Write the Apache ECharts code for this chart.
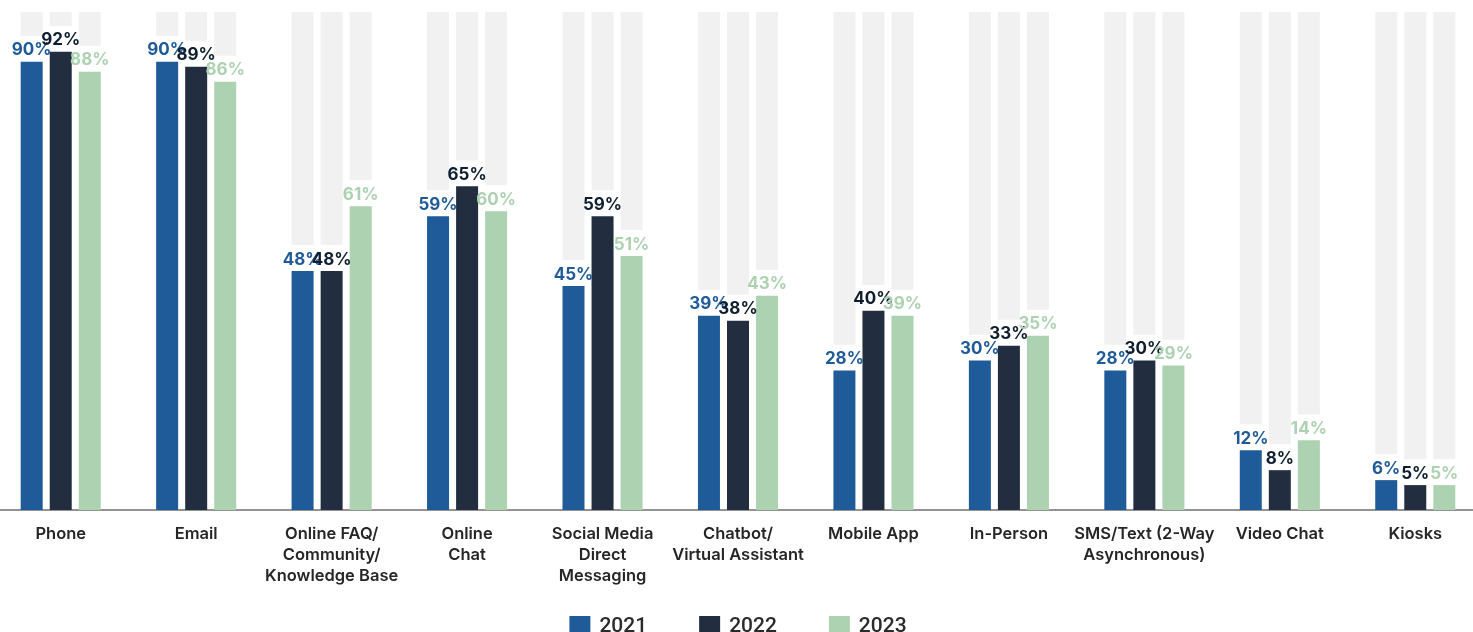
<!DOCTYPE html>
<html>
<head>
<meta charset="utf-8">
<script src="https://cdn.jsdelivr.net/npm/echarts@6/dist/echarts.min.js"></script>
<style>
  html, body { margin: 0; padding: 0; background: #ffffff; overflow: hidden; }
  #chart { width: 1490px; height: 632px; margin-left: -7px; }
</style>
</head>
<body>
<div id="chart"></div>
<script>
// Support channels in use, share of respondents by year
const categories = [
  'Phone', 'Email', 'Online FAQ/\nCommunity/\nKnowledge Base', 'Online\nChat',
  'Social Media\nDirect\nMessaging', 'Chatbot/\nVirtual Assistant', 'Mobile App',
  'In-Person', 'SMS/Text (2-Way\nAsynchronous)', 'Video Chat', 'Kiosks'
];
const years = ['2021', '2022', '2023'];
const values2021 = [90, 90, 48, 59, 45, 39, 28, 30, 28, 12, 6];
const values2022 = [92, 89, 48, 65, 59, 38, 40, 33, 30, 8, 5];
const values2023 = [88, 86, 61, 60, 51, 43, 39, 35, 29, 14, 5];

const colors = ['#1f5b98', '#222e3f', '#add2b1'];
const labelColors = ['#1f5b98', '#0f1f30', '#add2b1'];
const trackColor = '#f1f1f1';
const LABEL_GAP = 5.2;   // white space (in % units) kept clear above each bar for its label
const FONT = 'Inter, Lato, "Noto Sans", sans-serif';

const seriesValues = [values2021, values2022, values2023];
const BAR_W = 22;

const series = [];
seriesValues.forEach((vals, k) => {
  const stack = 'year' + k;
  series.push({
    name: years[k],
    type: 'bar',
    stack: stack,
    barWidth: BAR_W,
    barGap: '32%',
    data: vals,
    itemStyle: { color: colors[k] },
    label: {
      show: true,
      position: 'top',
      distance: 3,
      formatter: '{c}%',
      color: labelColors[k],
      fontFamily: FONT,
      fontWeight: 700,
      fontSize: 17
    },
    emphasis: { disabled: true }
  });
  series.push({
    name: 'gap' + k,
    type: 'bar',
    stack: stack,
    barWidth: BAR_W,
    barGap: '32%',
    silent: true,
    data: vals.map(() => LABEL_GAP),
    itemStyle: { color: 'rgba(0,0,0,0)' },
    emphasis: { disabled: true }
  });
  series.push({
    name: 'track' + k,
    type: 'bar',
    stack: stack,
    barWidth: BAR_W,
    barGap: '32%',
    silent: true,
    data: vals.map(v => Math.max(0, 100 - v - LABEL_GAP)),
    itemStyle: { color: trackColor },
    emphasis: { disabled: true }
  });
});

const chart = echarts.init(document.getElementById('chart'), null, { renderer: 'canvas' });
chart.setOption({
  animation: false,
  backgroundColor: '#ffffff',
  grid: { left: 0, right: 0, top: 12, bottom: 122, containLabel: false },
  legend: {
    data: years,
    left: 'center',
    top: 611,
    icon: 'rect',
    itemWidth: 21,
    itemHeight: 21,
    itemGap: 52,
    textStyle: { fontFamily: 'Roboto, sans-serif', fontWeight: 500, fontSize: 21, color: '#2b2b2b', padding: [0, 0, 0, 4] },
    selectedMode: false
  },
  xAxis: {
    type: 'category',
    data: categories,
    axisLine: { show: true, lineStyle: { color: '#6f6f6f', width: 1.5 } },
    axisTick: { show: false },
    axisLabel: {
      interval: 0,
      margin: 14,
      fontFamily: FONT,
      fontWeight: 600,
      fontSize: 16.5,
      lineHeight: 21,
      color: '#262626'
    }
  },
  yAxis: {
    type: 'value',
    min: 0,
    max: 100,
    show: false,
    splitLine: { show: false }
  },
  series: series
});
</script>
</body>
</html>
